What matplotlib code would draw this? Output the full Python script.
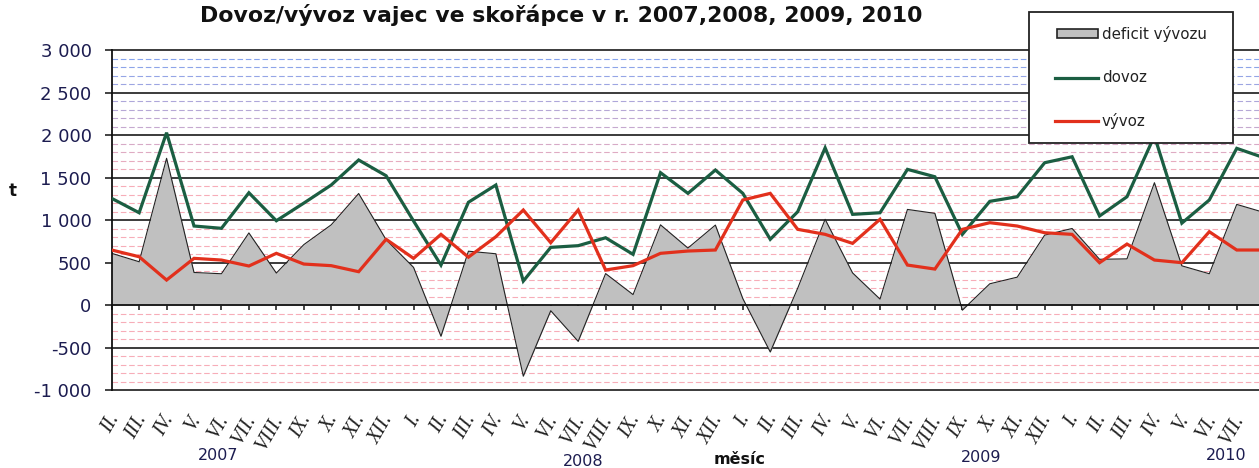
import matplotlib
matplotlib.use("Agg")
import matplotlib.pyplot as plt
import matplotlib.transforms as mtransforms
from matplotlib.patches import Rectangle
from matplotlib.lines import Line2D
import numpy as np

# ---------------- data ----------------
months = ["II.", "III.", "IV.", "V.", "VI.", "VII.", "VIII.", "IX.", "X.", "XI.", "XII.",
          "I.", "II.", "III.", "IV.", "V.", "VI.", "VII.", "VIII.", "IX.", "X.", "XI.", "XII.",
          "I.", "II.", "III.", "IV.", "V.", "VI.", "VII.", "VIII.", "IX.", "X.", "XI.", "XII.",
          "I.", "II.", "III.", "IV.", "V.", "VI.", "VII.", "VIII."]
years = ["2007", "2008", "2009", "2010"]

dovoz = [1256, 1087, 2028, 931, 904, 1322, 993, 1200, 1413, 1707, 1522, 990,
         472, 1210, 1413, 284, 680, 700, 793, 598, 1558, 1315, 1589,
         1315, 775, 1099, 1850, 1068, 1087, 1597, 1510, 833, 1221, 1275, 1675,
         1745, 1049, 1275, 1990, 965, 1237, 1844, 1733]
vyvoz = [649, 570, 296, 551, 531, 461, 610, 484, 465, 394, 775, 551,
         833, 565, 805, 1119, 735, 1119, 414, 465, 610, 637, 649,
         1237, 1315, 892, 833, 727, 1010, 472, 425, 892, 970, 931, 852,
         833, 500, 719, 531, 500, 864, 649, 649]
deficit = [610, 511, 1727, 385, 370, 850, 378, 712, 945, 1313, 770, 445,
           -365, 635, 605, -834, -65, -425, 372, 125, 945, 672, 942,
           78, -550, 200, 1010, 380, 72, 1126, 1080, -58, 252, 330, 824,
           902, 540, 545, 1440, 463, 370, 1185, 1090]

yticks = [-1000, -500, 0, 500, 1000, 1500, 2000, 2500, 3000]
ytick_labels = ["-1 000", "-500", "0", "500", "1 000", "1 500", "2 000", "2 500", "3 000"]

title = "Dovoz/vývoz vajec ve skořápce v r. 2007,2008, 2009, 2010"
legend_labels = ["deficit vývozu", "dovoz", "vývoz"]

# ---------------- layout ----------------
W, H = 1259, 468
fig = plt.figure(figsize=(W / 100, H / 100), dpi=100)
plt.rcParams['font.family'] = ['DejaVu Sans']

def fx(px):
    return px / W

def fy(py):
    return 1 - py / H

left_px, right_px, top_px, bot_px = 111.7, 1259, 50, 390.3
ax = fig.add_axes([fx(left_px), fy(bot_px), fx(right_px - left_px), (bot_px - top_px) / H])
step = 27.44
ax.set_xlim(0, (right_px - left_px) / step)
ax.set_ylim(-1000, 3000)

x = np.arange(len(dovoz))

# gridlines
blue = np.array([0.52, 0.64, 0.93])
pink = np.array([0.97, 0.68, 0.72])
for v in range(-900, 3000, 100):
    if v % 500 == 0:
        continue
    if v >= 1500:
        t = (2900 - v) / 1400
        c = blue * (1 - t) + pink * t
    else:
        c = pink
    ax.axhline(v, color=tuple(c), lw=0.8, ls=(0, (5, 2.5)), zorder=0.5)
for v in yticks:
    if v == 0:
        continue
    ax.axhline(v, color='#1a1a1a', lw=1.2, zorder=0.6, clip_on=False)

# area + lines
ax.fill_between(x, 0, deficit, color='#c0c0c0', lw=0, zorder=2)
ax.plot(x, deficit, color='#222222', lw=0.8, zorder=2.1)
ax.plot(x, dovoz, color='#1b5e42', lw=2.3, zorder=3, solid_joinstyle='miter')
ax.plot(x, vyvoz, color='#e2301c', lw=2.3, zorder=3, solid_joinstyle='miter')

# spines / axes
for s in ['top', 'right']:
    ax.spines[s].set_visible(False)
ax.spines['left'].set_color('#111111')
ax.spines['left'].set_linewidth(1.3)
ax.spines['bottom'].set_position(('data', 0))
ax.spines['bottom'].set_color('#111111')
ax.spines['bottom'].set_linewidth(1.3)
ax.spines['bottom'].set_zorder(4)

ax.set_yticks(yticks)
ax.set_yticklabels(ytick_labels, fontsize=13, color='#1c1c50')
ax.tick_params(axis='y', length=5, width=1.1, pad=9.5, color='#111111')
nvis = int(np.floor(ax.get_xlim()[1])) + 1
ax.set_xticks(range(nvis))
ax.set_xticklabels([''] * nvis)
ax.tick_params(axis='x', length=3.6, width=1.1, direction='out', color='#111111')

# month labels
trans = mtransforms.blended_transform_factory(ax.transData, fig.transFigure)
for i, lab in enumerate(months[:nvis]):
    ax.text(i + 0.12, fy(416), lab, transform=trans, rotation=60, rotation_mode='anchor',
            ha='right', va='center', fontsize=14.5, family='Liberation Serif',
            style='italic', color='#222222')

year_pos = [3.87, 17.2, 31.7, 40.6]
year_y = [456, 462, 458, 456]
for yl, xp, yp in zip(years, year_pos, year_y):
    ax.text(xp, fy(yp), yl, transform=trans, ha='center', va='center',
            fontsize=11.5, color='#1c1c50')

fig.text(fx(740), fy(459), "měsíc", ha='center', va='center', fontsize=11.5,
         fontweight='bold', color='#111111')
fig.text(fx(13), fy(191), "t", ha='center', va='center', fontsize=12,
         fontweight='bold', color='#111111')
fig.text(fx(561), fy(15), title, ha='center', va='center', fontsize=15.8,
         fontweight='bold', color='#111111')

# legend (manual)
fig.add_artist(Rectangle((fx(1029), fy(143.3)), fx(1233 - 1029), (143.3 - 11.7) / H,
                         transform=fig.transFigure, facecolor='white', edgecolor='#222222',
                         lw=1.3, zorder=10))
fig.add_artist(Rectangle((fx(1057), fy(38)), fx(41), 9 / H, transform=fig.transFigure,
                         facecolor='#c0c0c0', edgecolor='#222222', lw=1.2, zorder=11))
fig.add_artist(Line2D([fx(1055), fx(1098)], [fy(77.7), fy(77.7)], transform=fig.transFigure,
                      color='#1b5e42', lw=2.3, zorder=11))
fig.add_artist(Line2D([fx(1055), fx(1098)], [fy(120.7), fy(120.7)], transform=fig.transFigure,
                      color='#e2301c', lw=2.3, zorder=11))
for lab, yp in zip(legend_labels, [34, 77.7, 120.7]):
    t = fig.text(fx(1102), fy(yp), lab, ha='left', va='center', fontsize=10.8, color='#222222')
    t.set_zorder(12)

fig.savefig("out.png", dpi=100)
